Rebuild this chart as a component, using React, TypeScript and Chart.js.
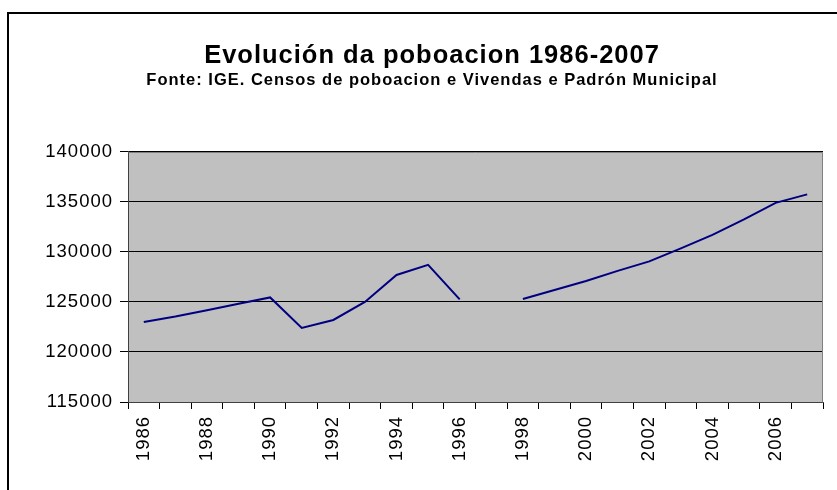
import React, { useEffect, useRef } from "react";
import { Chart, registerables } from "chart.js";

Chart.register(...registerables);

const TITLE = "Evolución da poboacion 1986-2007";
const SUBTITLE = "Fonte: IGE. Censos de poboacion e Vivendas e Padrón Municipal";

const years = [
  "1986", "1987", "1988", "1989", "1990", "1991", "1992", "1993", "1994", "1995", "1996",
  "1997", "1998", "1999", "2000", "2001", "2002", "2003", "2004", "2005", "2006", "2007",
];

const population: (number | null)[] = [
  123000, 123550, 124180, 124810, 125450, 122400, 123200, 125000, 127700, 128700, 125250,
  null, 125300, 126200, 127100, 128100, 129050, 130350, 131700, 133250, 134900, 135750,
];

const yMin = 115000;
const yMax = 140000;
const yStep = 5000;

const FONT = "'Liberation Sans', Arial, Helvetica, sans-serif";

const frameAndPlotBg = {
  id: "frameAndPlotBg",
  beforeDraw(chart: any) {
    const { ctx, chartArea } = chart;
    ctx.letterSpacing = "1px";
    ctx.save();
    // outer frame
    ctx.strokeStyle = "#000";
    ctx.lineWidth = 2;
    ctx.beginPath();
    ctx.moveTo(8, chart.height + 5);
    ctx.lineTo(8, 13);
    ctx.lineTo(chart.width + 5, 13);
    ctx.stroke();
    // plot background
    ctx.fillStyle = "#C0C0C0";
    ctx.fillRect(
      chartArea.left,
      chartArea.top,
      chartArea.right - chartArea.left,
      chartArea.bottom - chartArea.top
    );
    ctx.restore();
  },
  beforeDatasetsDraw(chart: any) {
    const { ctx, chartArea } = chart;
    ctx.save();
    ctx.strokeStyle = "#808080";
    ctx.lineWidth = 1;
    ctx.beginPath();
    ctx.moveTo(Math.round(chartArea.left) + 0.5, Math.round(chartArea.top) + 0.5);
    ctx.lineTo(Math.round(chartArea.right) - 0.5, Math.round(chartArea.top) + 0.5);
    ctx.lineTo(Math.round(chartArea.right) - 0.5, Math.round(chartArea.bottom) + 0.5);
    ctx.stroke();
    ctx.restore();
  },
};

export default function App() {
  const canvasRef = useRef<HTMLCanvasElement | null>(null);

  useEffect(() => {
    if (!canvasRef.current) return;
    const chart = new Chart(canvasRef.current, {
      type: "line",
      data: {
        labels: years,
        datasets: [
          {
            label: "Poboación",
            data: population,
            borderColor: "#000080",
            borderWidth: 2,
            pointRadius: 0,
            tension: 0,
            spanGaps: false,
            fill: false,
          },
        ],
      },
      options: {
        responsive: false,
        animation: false,
        layout: { padding: { left: 41, right: 14, top: 0, bottom: 0 } },
        plugins: {
          legend: { display: false },
          tooltip: { enabled: false },
          title: {
            display: true,
            text: TITLE,
            color: "#000",
            font: { family: FONT, size: 25.5, weight: "bold", lineHeight: 1.1 },
            padding: { top: 42, bottom: 0 },
          },
          subtitle: {
            display: true,
            text: SUBTITLE,
            color: "#000",
            font: { family: FONT, size: 16.5, weight: "bold", lineHeight: 1.2 },
            padding: { top: 1, bottom: 61 },
          },
        },
        scales: {
          x: {
            type: "category",
            offset: true,
            grid: {
              offset: true,
              drawOnChartArea: false,
              drawTicks: true,
              tickLength: 7,
              tickColor: "#000",
              color: "#000",
            },
            border: { display: true, color: "#404040", width: 1 },
            ticks: {
              autoSkip: false,
              minRotation: 90,
              maxRotation: 90,
              padding: 7,
              color: "#000",
              font: { family: FONT, size: 18.5 },
              callback: (_v: any, i: number) => (i % 2 === 0 ? years[i] : ""),
            },
            afterFit: (scale: any) => {
              scale.height = 88;
            },
          },
          y: {
            min: yMin,
            max: yMax,
            grid: {
              color: "#000",
              tickColor: "#000",
              lineWidth: 1,
              drawTicks: true,
              tickLength: 8,
            },
            border: { display: true, color: "#404040", width: 1 },
            ticks: {
              stepSize: yStep,
              padding: 7,
              color: "#000",
              font: { family: FONT, size: 18.5 },
              callback: (v: any) => String(v),
            },
            afterFit: (scale: any) => {
              scale.width = 87;
            },
          },
        },
      },
      plugins: [frameAndPlotBg],
    });
    return () => chart.destroy();
  }, []);

  return (
    <div style={{ position: "absolute", left: 0, top: 0, width: 837, height: 490, background: "#fff" }}>
      <canvas ref={canvasRef} width={837} height={490} />
    </div>
  );
}
